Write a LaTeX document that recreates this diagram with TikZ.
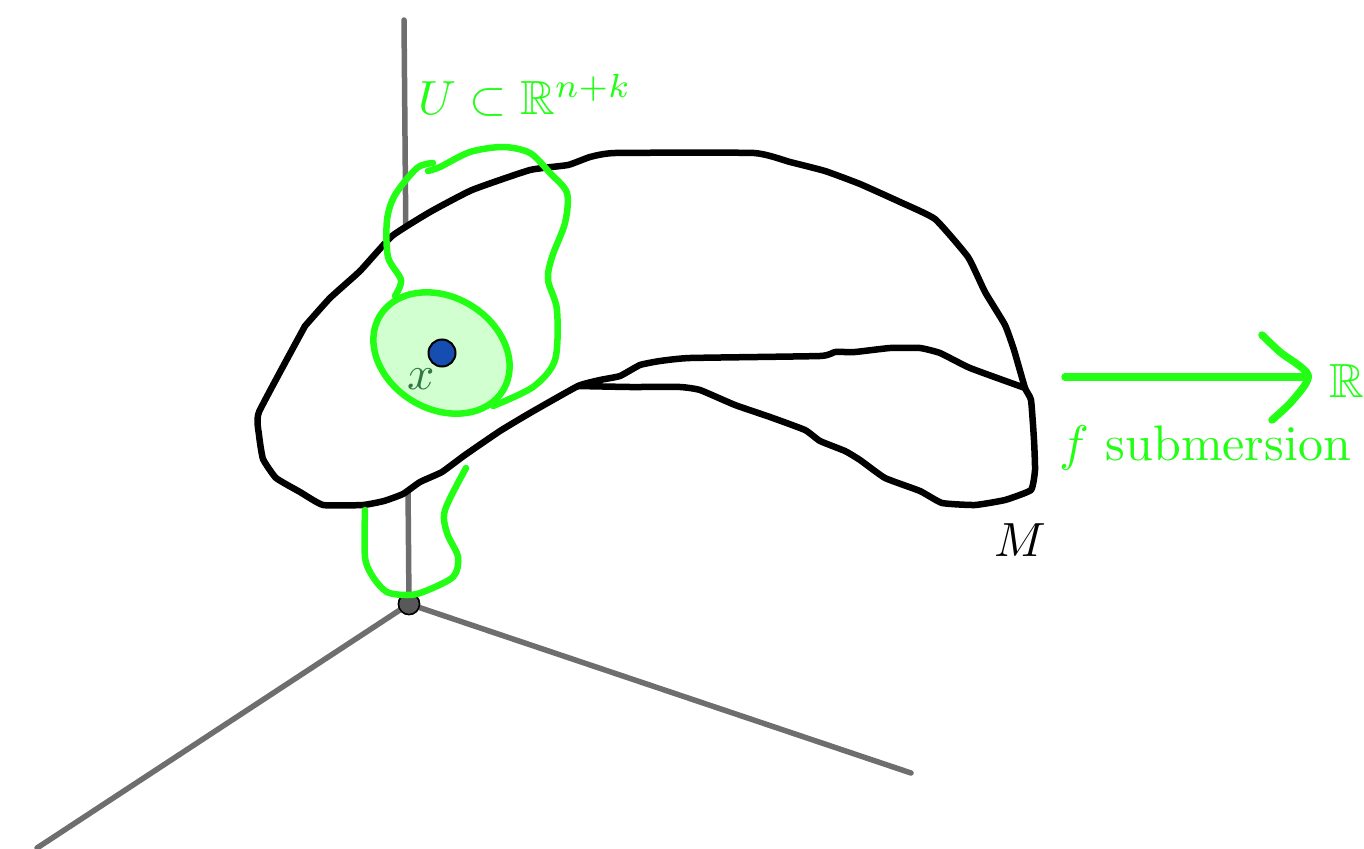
\documentclass[tikz,border=0pt]{standalone}
\usepackage{amssymb}
\usepackage{graphicx}
\definecolor{gr}{RGB}{34,255,20}
\definecolor{axisc}{RGB}{110,110,110}
\definecolor{darkx}{RGB}{50,120,70}
\definecolor{bluept}{RGB}{21,77,176}
\newcommand{\bigtxt}[1]{\scalebox{4.8}{#1}}
\newcommand{\biggertxt}[1]{\scalebox{5.0}{#1}}
\tikzset{
  axisline/.style={draw=axisc,line width=5.5pt,line cap=round},
  outline/.style={draw=black,line width=6.5pt,line join=round,line cap=round},
  greenline/.style={draw=gr,line width=6.5pt,line join=round,line cap=round},
  arrowline/.style={draw=gr,line width=7.5pt,line join=round,line cap=round},
  lab/.style={inner sep=0pt,anchor=base west},
  origin/.style={circle,draw=black,fill=axisc!80!black,line width=1.5pt,minimum size=21pt,inner sep=0pt},
}
\begin{document}
\begin{tikzpicture}[x=1pt,y=-1pt]
\useasboundingbox (0,0) rectangle (1364,848);
\fill[white] (0,0) rectangle (1364,848);
\node[origin] (o) at (409,604) {};
\coordinate (zt) at (404,20);
\coordinate (xe) at (37,848);
\coordinate (ye) at (911,773);
\draw[axisline] (o.center) -- (zt);
\draw[axisline] (o.center) -- (xe);
\draw[axisline] (o.center) -- (ye);
\node[origin] at (409,604) {};
% white interior of the manifold hides the axis
\fill[white] (305,326)--(259,412)--(259,435)--(263,459)--(276,478)--(300,492)--(323,505)--(363,505)--(384,501)--(403,494)--(420,482)--(442,472)--(465,455)--(500,431)--(530,413)--(578,386)--(530,170)--(472,190)--(430,212)--(392,236)--(360,271)--(330,298)--cycle;
% manifold
\draw[outline] plot[smooth,tension=.25] coordinates {(305,326)(259,412)(259,435)(263,459)(276,478)(300,492)(323,505)(363,505)(384,501)(403,494)(420,482)(442,472)(465,455)(500,431)(530,413)(578,386)(600,380)(620,376)(640,365)(660,361)(690,358)(820,356)(835,352)(855,352)(890,348)(920,348)(940,353)(970,368)(1025,388)};
\draw[outline] plot[smooth,tension=.25] coordinates {(305,326)(330,298)(360,271)(392,236)(430,212)(472,190)(530,170)(568,165)(590,157)(615,153)(754,153)(790,162)(825,171)(860,184)(900,202)(935,219)(968,257)(985,292)(1005,325)(1014,350)(1025,388)(1031,400)(1034,440)(1035,470)(1031,490)(1005,500)(975,505)(942,503)(920,491)(885,478)(860,460)(845,451)(820,441)(805,430)(770,417)(735,405)(700,390)(680,387)(630,387)(578,386)};
% green
\fill[gr,opacity=.2] (441.5,353) ellipse [x radius=72pt,y radius=56pt,rotate=-31];
\draw[greenline] (441.5,353) ellipse [x radius=72pt,y radius=56pt,rotate=-31];
\draw[greenline] plot[smooth,tension=.5] coordinates {(395,296)(401,280)(388,257)(387,220)(395,195)(417,168)(433,163)};
\draw[greenline] plot[smooth,tension=.5] coordinates {(428,171)(440,167)(470,152)(503,147)(530,153)(550,173)(567,193)(565,223)(552,257)(548,280)(557,310)(555,360)(533,387)(493,406)};
\draw[greenline] plot[smooth,tension=.5] coordinates {(365,510)(365,557)(373,577)(387,592)(407,595)(423,592)(453,577)(458,557)(447,533)(445,510)(466,468)};
\coordinate (as) at (1065,377);
\coordinate (ae) at (1308,377);
\draw[arrowline] (as) -- (ae);
\draw[arrowline] plot[smooth,tension=.5] coordinates {(1262,335)(1280,352)(1308,375)(1293,400)(1272,420)};
% blue point
\node[circle,draw=black,fill=bluept,line width=2pt,minimum size=27pt,inner sep=0pt] (p) at (442,353) {};
% labels
\node[lab,text=gr] (u) at (418,115) {\bigtxt{$U\subset\mathbb{R}^{n+k}$}};
\node[lab,text=black] (m) at (994,556) {\bigtxt{$M$}};
\node[lab,text=gr] (r) at (1329,397) {\bigtxt{$\mathbb{R}$}};
\node[lab,text=gr] (f) at (1059,460) {\biggertxt{$f$ submersion}};
\node[lab,text=darkx] (x) at (407,389) {\bigtxt{$x$}};
\end{tikzpicture}
\end{document}
